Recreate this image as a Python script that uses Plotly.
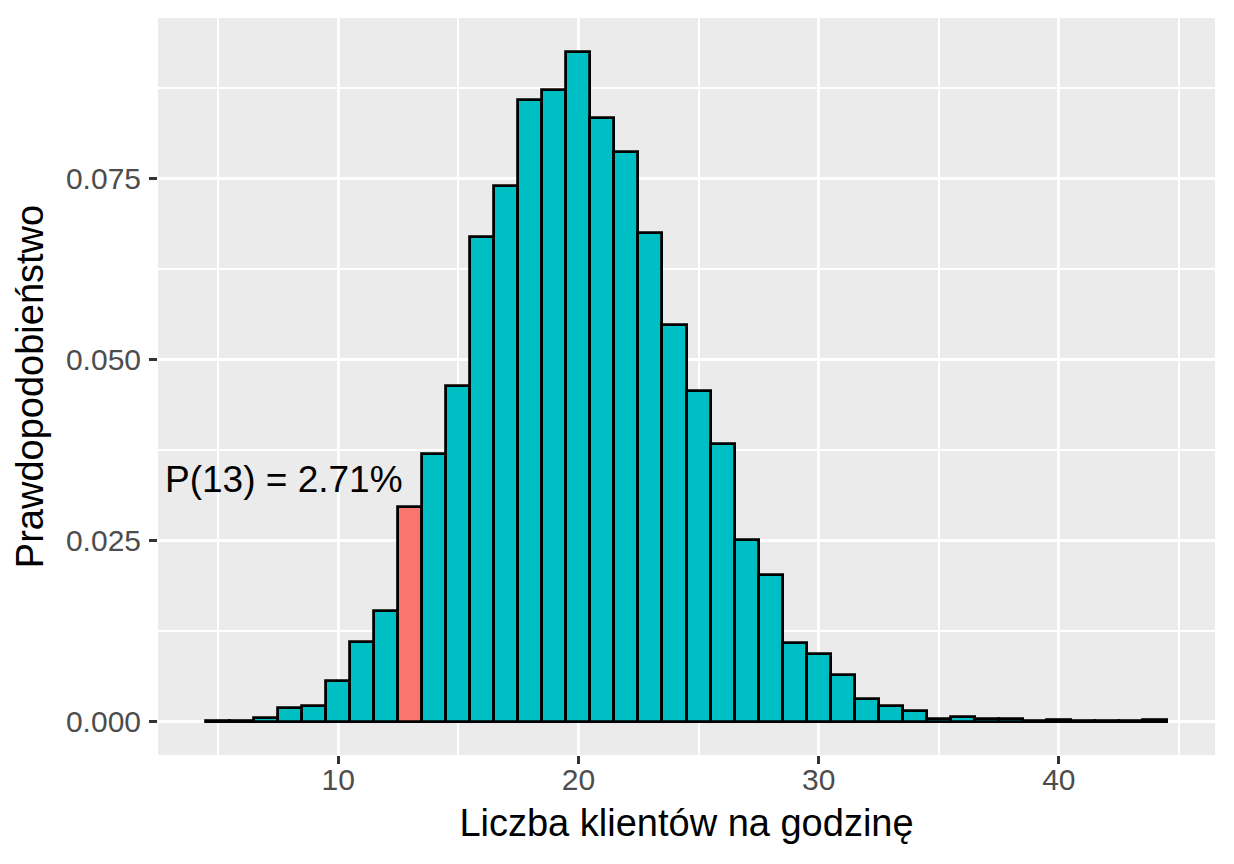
import plotly.graph_objects as go

# liczba klientów na godzinę i odczytane prawdopodobieństwa
klienci = list(range(5, 45))
prawd = [0.0001, 0.0001, 0.0005, 0.0019, 0.0021, 0.0056, 0.0110, 0.0153, 0.0297, 0.0369,
         0.0463, 0.0670, 0.0740, 0.0859, 0.0873, 0.0925, 0.0834, 0.0787, 0.0675, 0.0548,
         0.0456, 0.0383, 0.0251, 0.0202, 0.0108, 0.0093, 0.0064, 0.0031, 0.0021, 0.0015,
         0.0004, 0.0006, 0.0004, 0.0003, 0.0001, 0.0002, 0.0001, 0.0001, 0.0001, 0.0002]
wyrozniony = 13
etykieta = "P(13) = 2.71%"

y_ticks = [0.0, 0.025, 0.05, 0.075]
x_ticks = [10, 20, 30, 40]

kolory = ["#F8766D" if k == wyrozniony else "#00BFC4" for k in klienci]

fig = go.Figure()
fig.add_trace(go.Bar(
    x=klienci, y=prawd, width=1,
    marker=dict(color=kolory, line=dict(color="black", width=2.8)),
    showlegend=False,
))

fig.add_annotation(x=7.76, y=0.0334, text=etykieta, showarrow=False,
                   xanchor="center", yanchor="middle",
                   font=dict(size=37, color="black"))

font = "Liberation Sans, Arial, sans-serif"
# strona ma 8 px marginesu, więc marginesy są przesunięte
fig.update_layout(
    width=1234, height=864,
    margin=dict(l=150, r=27, t=10, b=117),
    paper_bgcolor="white", plot_bgcolor="#EBEBEB",
    font=dict(family=font, color="black"),
    bargap=0,
)
fig.update_xaxes(
    range=[2.5, 46.5], tickvals=x_ticks, ticks="outside", ticklen=8, tickwidth=2.5,
    tickcolor="#333333", tickfont=dict(size=30, color="#4D4D4D"), ticklabelstandoff=-10,
    showgrid=True, gridcolor="white", gridwidth=3, zeroline=False,
    minor=dict(tickvals=[5, 15, 25, 35, 45], showgrid=True, gridcolor="white", gridwidth=1.5),
    title=dict(text="Liczba klientów na godzinę", font=dict(size=38), standoff=14),
)
fig.update_yaxes(
    range=[-0.00462, 0.0972], tickvals=y_ticks, tickformat=".3f", ticks="outside",
    ticklen=8, tickwidth=2.5, tickcolor="#333333", tickfont=dict(size=30, color="#4D4D4D"),
    ticklabelstandoff=2,
    showgrid=True, gridcolor="white", gridwidth=3, zeroline=False,
    minor=dict(tickvals=[0.0125, 0.0375, 0.0625, 0.0875], showgrid=True, gridcolor="white", gridwidth=1.5),
    title=dict(text="Prawdopodobieństwo", font=dict(size=38), standoff=10),
)

fig.write_html("out.html")
